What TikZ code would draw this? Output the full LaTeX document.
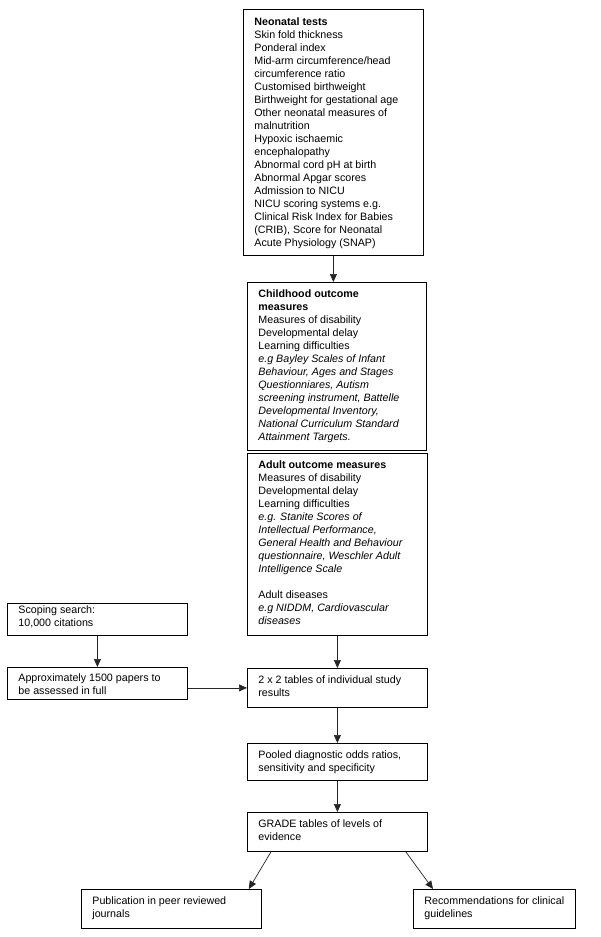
\documentclass[tikz,border=0pt]{standalone}
\usepackage{fontspec}
\setmainfont{Liberation Sans}
\usetikzlibrary{arrows.meta,calc}
\newcommand\bxt[4]{\hspace*{11pt}\parbox[c][#2pt][t]{\dimexpr #1pt-13pt\relax}{\raggedright\rule{0pt}{#3pt}#4}\hspace*{2pt}}
\tikzset{
  box/.style={draw=black, line width=0.8pt, inner sep=0pt, anchor=north west, font=\fontsize{10.7}{13}\selectfont},
  arr/.style={draw=black!85, line width=0.7pt, -{Triangle[length=8pt,width=7pt]}}
}
\begin{document}
\begin{tikzpicture}[x=1pt,y=-1pt]
\useasboundingbox (0,0) rectangle (600,937);
\node[box] (neo) at (243,9) {\bxt{180}{246}{16}{\textbf{Neonatal tests}\\
Skin fold thickness\\
Ponderal index\\
Mid-arm circumference/head\\
circumference ratio\\
Customised birthweight\\
Birthweight for gestational age\\
Other neonatal measures of\\
malnutrition\\
Hypoxic ischaemic\\
encephalopathy\\
Abnormal cord pH at birth\\
Abnormal Apgar scores\\
Admission to NICU\\
NICU scoring systems e.g.\\
Clinical Risk Index for Babies\\
(CRIB), Score for Neonatal\\
Acute Physiology (SNAP)}};
\node[box] (child) at (247,282) {\bxt{179}{168}{15}{\textbf{Childhood outcome\\ measures}\\
Measures of disability\\
Developmental delay\\
Learning difficulties\\
{\itshape e.g Bayley Scales of Infant\\ Behaviour, Ages and Stages\\ Questionniares, Autism\\ screening instrument, Battelle\\ Developmental Inventory,\\ National Curriculum Standard\\ Attainment Targets.}}};
\node[box] (adult) at (247,453) {\bxt{180}{182}{15.5}{\textbf{Adult outcome measures}\\
Measures of disability\\
Developmental delay\\
Learning difficulties\\
{\itshape e.g. Stanite Scores of\\ Intellectual Performance,\\ General Health and Behaviour\\ questionnaire, Weschler Adult\\ Intelligence Scale}\\
\mbox{}\\
Adult diseases\\
{\itshape e.g NIDDM, Cardiovascular\\ diseases}}};
\node[box] (tt) at (247,668) {\bxt{180}{39}{15}{2 x 2 tables of individual study\\ results}};
\node[box] (pooled) at (247,743) {\bxt{180}{37}{15}{Pooled diagnostic odds ratios,\\ sensitivity and specificity}};
\node[box] (grade) at (247,812) {\bxt{180}{39}{15}{GRADE tables of levels of\\ evidence}};
\node[box] (scope) at (7,603) {\bxt{180}{32}{10}{Scoping search:\\ 10,000 citations}};
\node[box] (approx) at (7,667) {\bxt{180}{32}{14}{Approximately 1500 papers to\\ be assessed in full}};
\node[box] (pub) at (81,889) {\bxt{180}{39}{15}{Publication in peer reviewed\\ journals}};
\node[box] (rec) at (413,889) {\bxt{162}{39}{15}{Recommendations for clinical\\ guidelines}};
\draw[arr] (neo.south) -- (neo.south |- child.north);
\draw[arr] (adult.south) -- (tt.north);
\draw[arr] (tt.south) -- (pooled.north);
\draw[arr] (pooled.south) -- (grade.north);
\draw[arr] (scope.south) -- (approx.north);
\draw[arr] (approx.east |- tt.west) -- (tt.west);
\draw[arr] ($(grade.south west)+(24,0)$) -- ($(pub.north east)+(-13,0)$);
\draw[arr] ($(grade.south east)+(-22,0)$) -- ($(rec.north west)+(20,0)$);
\end{tikzpicture}
\end{document}
